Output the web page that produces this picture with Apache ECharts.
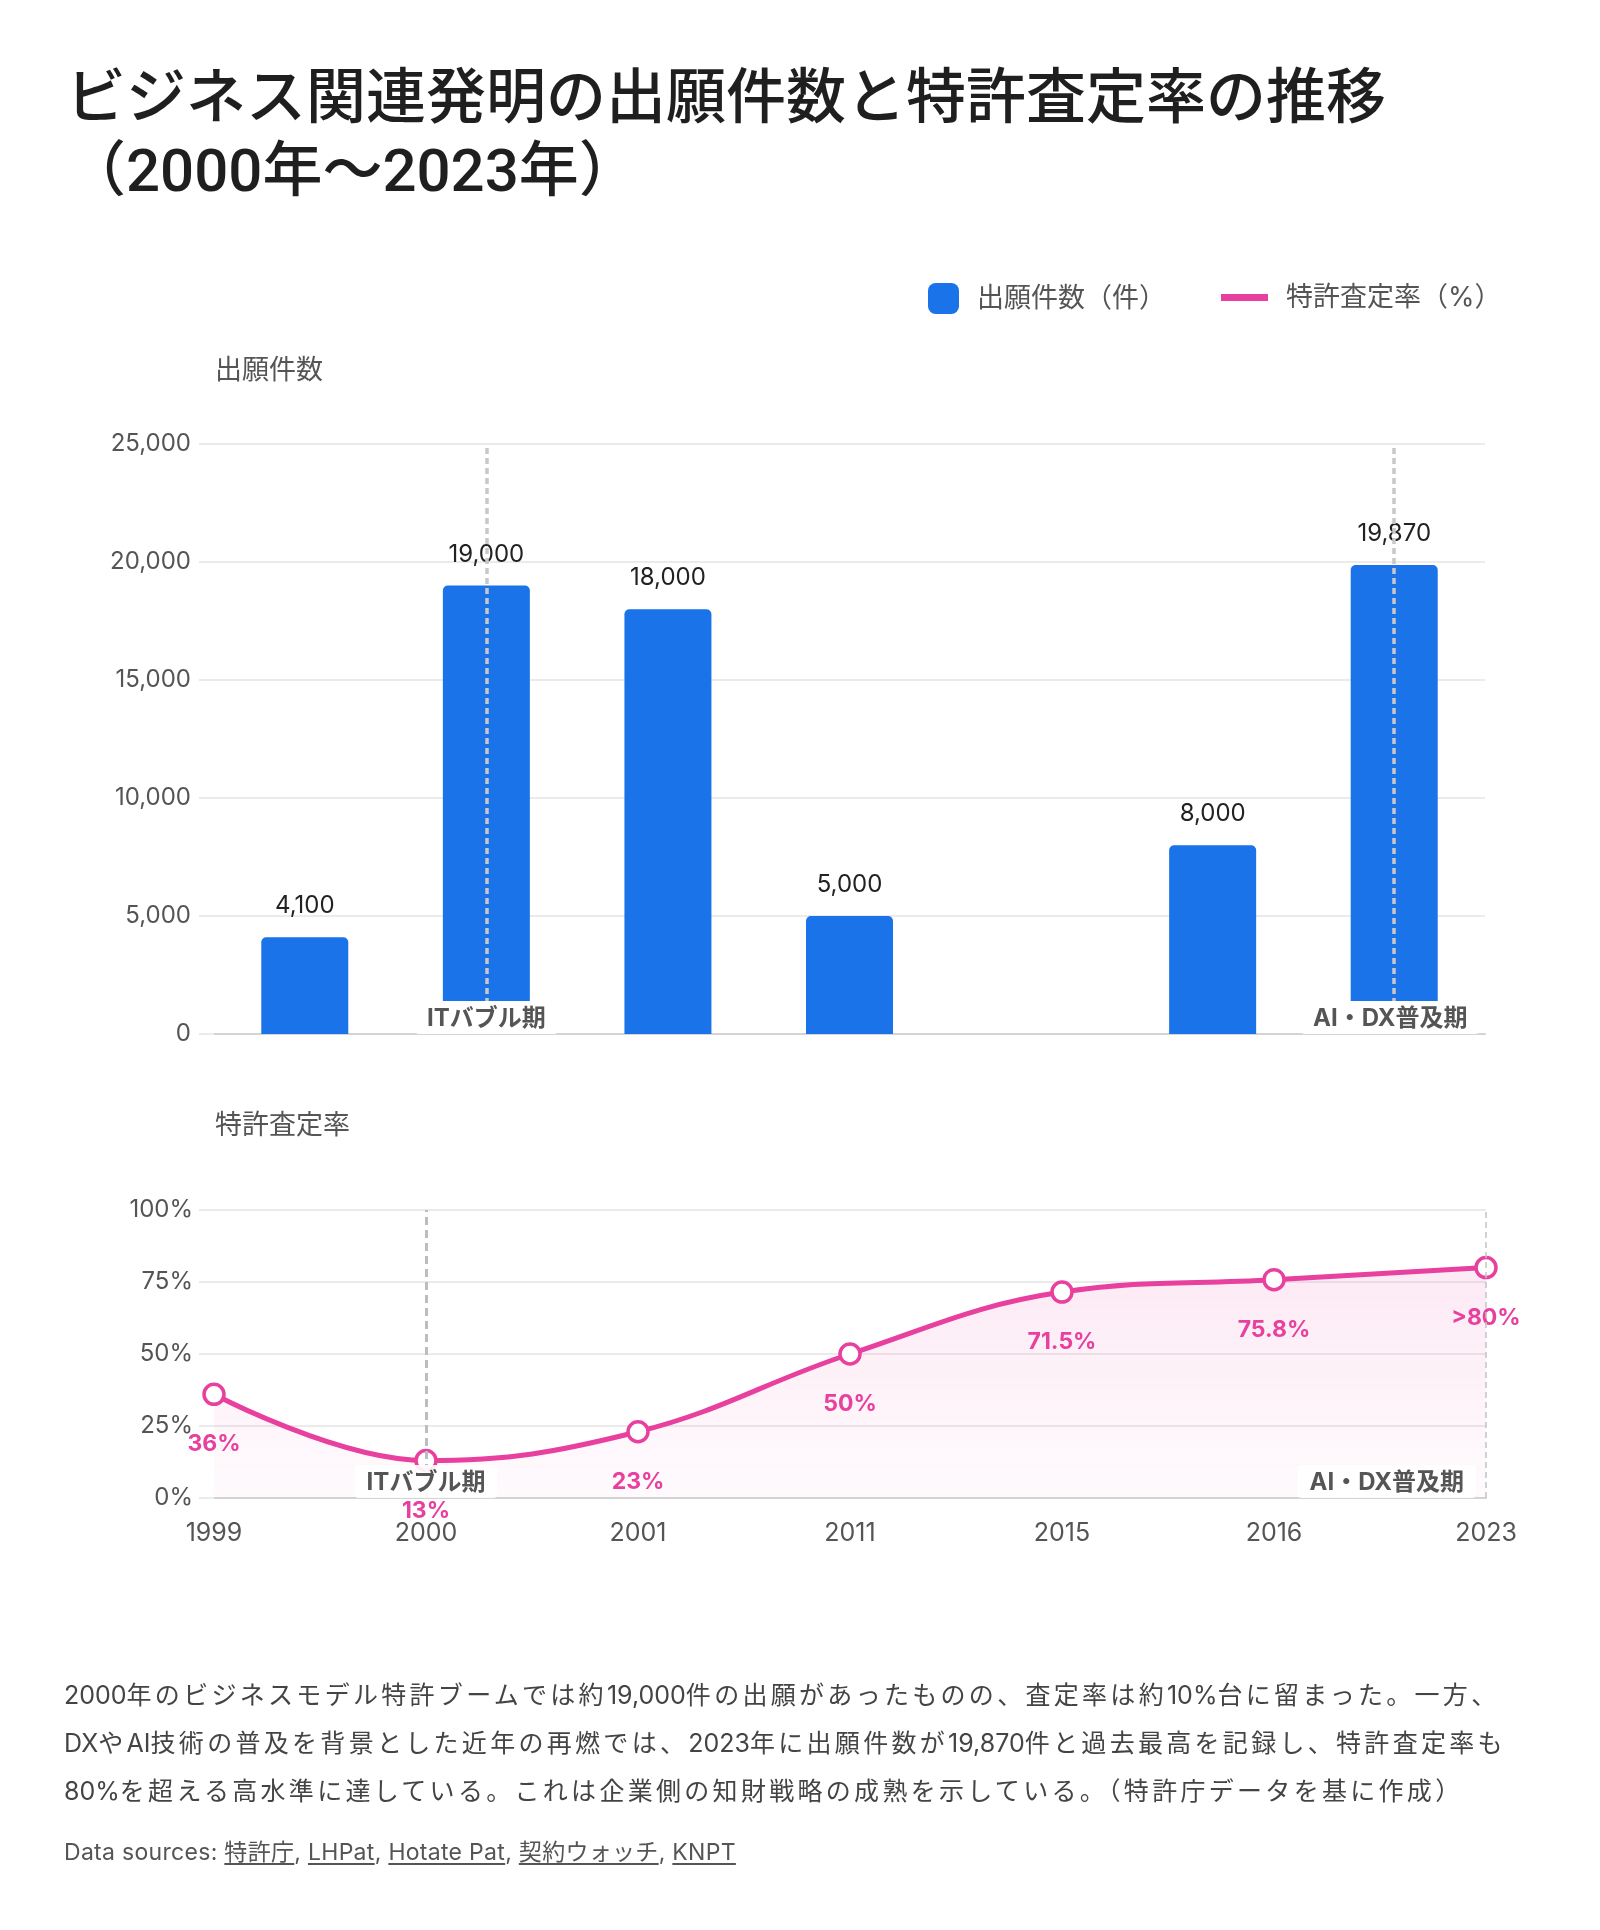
<!DOCTYPE html>
<html>
<head>
<meta charset="utf-8">
<script src="https://cdn.jsdelivr.net/npm/echarts@6/dist/echarts.min.js"></script>
<style>
  body { margin: 0; background: #fff; }
  #chart { position: absolute; left: 0; top: 0; width: 1600px; height: 1930px; }
  .txt { position: absolute; left: 64px; white-space: nowrap; font-family: Inter, "Noto Sans CJK JP", sans-serif; }
  #desc { top: 1671px; font-size: 25px; line-height: 48px; letter-spacing: 3.3px; color: #444; }
  #desc .n { letter-spacing: 0; }
  #src { top: 1837px; font-size: 23px; line-height: 30px; letter-spacing: 0.3px; color: #555; }
  #src u { text-underline-offset: 3px; }
</style>
</head>
<body>
<div id="chart"></div>
<div id="desc" class="txt"><span class="n">2000</span>年のビジネスモデル特許ブームでは約<span class="n">19,000</span>件の出願があったものの、査定率は約<span class="n">10%</span>台に留まった。一方、<br><span class="n">DX</span>や<span class="n">AI</span>技術の普及を背景とした近年の再燃では、<span class="n">2023</span>年に出願件数が<span class="n">19,870</span>件と過去最高を記録し、特許査定率も<br><span class="n">80%</span>を超える高水準に達している。これは企業側の知財戦略の成熟を示している。（特許庁データを基に作成）</div>
<div id="src" class="txt">Data sources: <u>特許庁</u>, <u>LHPat</u>, <u>Hotate Pat</u>, <u>契約ウォッチ</u>, <u>KNPT</u></div>
<script>
var chartDom = document.getElementById('chart');
var myChart = echarts.init(chartDom);
var option;

// data
var years = ['1999', '2000', '2001', '2011', '2015', '2016', '2023'];
var filings = [4100, 19000, 18000, 5000, '-', 8000, 19870];
var grantRate = [36, 13, 23, 50, 71.5, 75.8, 80];
var grantLabels = ['36%', '13%', '23%', '50%', '71.5%', '75.8%', '>80%'];
var periodYears = ['2000', '2023'];
var periodNames = ['ITバブル期', 'AI・DX普及期'];

var font = 'Inter, "Noto Sans CJK JP", sans-serif';
var blue = '#1A73E8';
var pink = '#E8409E';
var grey = '#555';
var gridColor = '#ebebeb';

var periodLabel = {
  show: true,
  position: 'top',
  distance: 0,
  formatter: '{b}',
  fontFamily: font,
  fontSize: 24,
  fontWeight: 'bold',
  color: grey,
  backgroundColor: '#fff',
  borderRadius: 4,
  padding: [6, 12, 3, 12]
};

option = {
  animation: false,
  textStyle: { fontFamily: font },
  title: [
    {
      text: 'ビジネス関連発明の出願件数と特許査定率の推移\n{sub|（2000年～2023年）}',
      left: 66, top: 62, padding: 0,
      textStyle: {
        fontFamily: font, fontSize: 60, fontWeight: 500, color: '#1f1f1f', lineHeight: 76,
        rich: {
          sub: { fontFamily: 'Roboto, "Noto Sans CJK JP", sans-serif', fontSize: 60, fontWeight: 500, color: '#1f1f1f', lineHeight: 76 }
        }
      }
    },
    {
      text: '出願件数', left: 215, top: 357, padding: 0,
      textStyle: { fontFamily: font, fontSize: 27, fontWeight: 'normal', color: grey }
    },
    {
      text: '特許査定率', left: 215, top: 1112, padding: 0,
      textStyle: { fontFamily: font, fontSize: 27, fontWeight: 'normal', color: grey }
    }
  ],
  legend: [
    {
      data: ['出願件数（件）'],
      left: 928, top: 283, padding: 0,
      icon: 'roundRect', itemWidth: 31, itemHeight: 31,
      textStyle: { fontSize: 27, color: grey, padding: [0, 0, 0, 13] }
    },
    {
      data: [{ name: '特許査定率（%）', itemStyle: { color: pink, borderWidth: 0 } }],
      left: 1221, top: 284, padding: 0,
      icon: 'rect', itemWidth: 47, itemHeight: 7,
      textStyle: { fontSize: 27, color: grey, padding: [0, 0, 0, 13] }
    }
  ],
  grid: [
    { left: 214, right: 115, top: 444, height: 590 },
    { left: 214, right: 114, top: 1210, height: 288 }
  ],
  xAxis: [
    {
      type: 'category', gridIndex: 0, data: years,
      axisLabel: { show: false },
      axisTick: { show: false },
      axisLine: { lineStyle: { color: '#d4d4d4', width: 2 } }
    },
    {
      type: 'category', gridIndex: 1, data: years, boundaryGap: false,
      axisTick: { show: false },
      axisLine: { lineStyle: { color: '#d4d4d4', width: 2 } },
      axisLabel: { fontSize: 25, color: grey, margin: 23 }
    }
  ],
  yAxis: [
    {
      type: 'value', gridIndex: 0, min: 0, max: 25000, interval: 5000,
      axisLine: { show: false },
      axisTick: { show: true, length: 15, lineStyle: { color: gridColor, width: 2 } },
      splitLine: { lineStyle: { color: gridColor, width: 2 } },
      axisLabel: {
        fontSize: 24, color: grey, margin: 23,
        formatter: function (v) { return v.toLocaleString('en-US'); }
      }
    },
    {
      type: 'value', gridIndex: 1, min: 0, max: 100, interval: 25,
      axisLine: { show: false },
      axisTick: { show: true, length: 15, lineStyle: { color: gridColor, width: 2 } },
      splitLine: { lineStyle: { color: gridColor, width: 2 } },
      axisLabel: { fontSize: 24, color: grey, margin: 21, formatter: '{value}%' }
    }
  ],
  series: [
    {
      name: '出願件数（件）',
      type: 'bar',
      xAxisIndex: 0, yAxisIndex: 0,
      data: filings,
      barWidth: 87,
      itemStyle: { color: blue, borderRadius: [5, 5, 0, 0] },
      label: {
        show: true, position: 'top', distance: 19,
        fontSize: 24, color: '#222',
        formatter: function (p) { return p.value.toLocaleString('en-US'); }
      },
      markLine: {
        silent: true, z: 4, symbol: 'none',
        label: { show: false },
        lineStyle: { type: [6, 4], color: '#c8c8c8', width: 3.5 },
        data: periodYears.map(function (y) { return { xAxis: y }; })
      },
      markPoint: {
        silent: true, z: 6, symbolSize: 0,
        label: periodLabel,
        data: [
          { name: periodNames[0], coord: [periodYears[0], 0] },
          { name: periodNames[1], coord: [periodYears[1], 0], label: { offset: [-4, 0] } }
        ]
      }
    },
    {
      name: '特許査定率（%）',
      type: 'line',
      xAxisIndex: 1, yAxisIndex: 1,
      data: grantRate,
      smooth: 0.4,
      symbol: 'circle', symbolSize: 20, showAllSymbol: true,
      lineStyle: { color: pink, width: 5 },
      itemStyle: { color: '#fff', borderColor: pink, borderWidth: 3.5 },
      areaStyle: {
        color: new echarts.graphic.LinearGradient(0, 0, 0, 1, [
          { offset: 0, color: 'rgba(232,64,158,0.16)' },
          { offset: 1, color: 'rgba(232,64,158,0.03)' }
        ])
      },
      label: {
        show: true, position: 'bottom', distance: 27,
        color: pink, fontWeight: 'bold', fontSize: 23,
        formatter: function (p) { return grantLabels[p.dataIndex]; }
      },
      markLine: {
        silent: true, z: 4, symbol: 'none',
        label: { show: false },
        data: [
          { xAxis: periodYears[0], lineStyle: { type: [8, 5], color: '#bdbdbd', width: 3 } },
          { xAxis: periodYears[1], lineStyle: { type: [6, 4], color: '#c4c4c4', width: 1.5 } }
        ]
      },
      markPoint: {
        silent: true, z: 6, symbolSize: 0,
        label: Object.assign({}, periodLabel, { backgroundColor: 'rgba(255,255,255,0.9)' }),
        data: [
          { name: periodNames[0], coord: [periodYears[0], 0] },
          { name: periodNames[1], coord: [periodYears[1], 0], label: { align: 'right', offset: [-10, 0] } }
        ]
      }
    }
  ]
};

option && myChart.setOption(option);
</script>
</body>
</html>
